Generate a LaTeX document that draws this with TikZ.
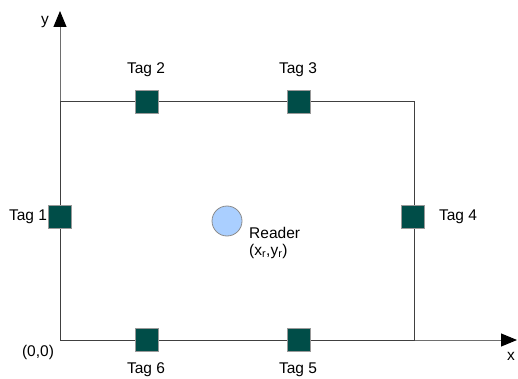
\documentclass[tikz,border=0pt]{standalone}
\usepackage{fontspec}
\setmainfont{Liberation Sans}
\usetikzlibrary{arrows.meta}
\definecolor{tagfill}{RGB}{0,77,72}
\definecolor{readerfill}{RGB}{170,207,255}
\definecolor{edge}{RGB}{110,110,110}
\tikzset{
  tag/.style={draw=edge!70, line width=0.8pt, fill=tagfill, minimum size=22.5pt, inner sep=0pt},
  lbl/.style={font=\fontsize{15.5}{18}\selectfont, inner sep=0pt},
  axis/.style={draw=edge, line width=1pt, -{Triangle[width=13pt,length=16pt,color=black,fill=black]}},
  frame/.style={draw=black!75, line width=0.8pt}
}
\begin{document}
\begin{tikzpicture}[x=1pt,y=-1pt]
\useasboundingbox (0,0) rectangle (518,379);
% axes
\coordinate (o) at (60,340);
\coordinate (ytip) at (60,11);
\coordinate (xtip) at (517,340);
\draw[axis] (o) -- (ytip);
\draw[axis] (o) -- (xtip);
% room outline
\coordinate (tl) at (60,101);
\coordinate (tr) at (414,101);
\coordinate (br) at (414,340);
\draw[frame] (o) -- (tl) -- (tr) -- (br) -- (o);
% tags
\node[tag] (t1) at (60,217) {};
\node[tag] (t2) at (147,102) {};
\node[tag] (t3) at (299,102) {};
\node[tag] (t4) at (413,217) {};
\node[tag] (t5) at (299,340) {};
\node[tag] (t6) at (147,340) {};
% reader
\node[circle, draw=edge!80, line width=0.8pt, fill=readerfill, minimum size=30pt, inner sep=0pt] (rd) at (227,221) {};
% labels
\node[lbl] (ly) at (45,22) {y};
\node[lbl] (lx) at (511,356) {x};
\node[lbl] (l1) at (28,217) {Tag 1};
\node[lbl] (l2) at (146,70) {Tag 2};
\node[lbl] (l3) at (298,70) {Tag 3};
\node[lbl] (l4) at (458,217) {Tag 4};
\node[lbl] (l5) at (298,370) {Tag 5};
\node[lbl] (l6) at (146,370) {Tag 6};
\node[lbl] (lo) at (38,352) {(0,0)};
\node[lbl, anchor=west] (lr) at (249,233) {Reader};
\node[lbl, anchor=west] (lxy) at (249,251) {(x\textsubscript{r},y\textsubscript{r})};
\end{tikzpicture}
\end{document}
